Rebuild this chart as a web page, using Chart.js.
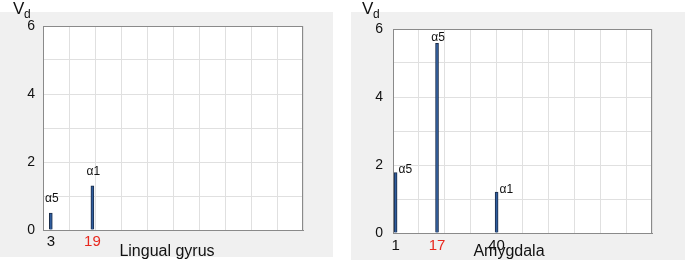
<!DOCTYPE html>
<html>
<head>
<meta charset="utf-8">
<script src="https://cdn.jsdelivr.net/npm/chart.js@4.4.1/dist/chart.umd.min.js"></script>
<style>
  html, body { margin: 0; padding: 0; background: #fff; }
  body { width: 685px; height: 262px; position: relative; overflow: hidden; }
  .panel { position: absolute; top: 0; width: 340px; height: 262px; }
  .bg { position: absolute; background: #f0f0f0; }
  canvas { position: absolute; left: 0; top: 0; }
</style>
</head>
<body>
<div class="bg" style="left:0;top:12px;width:333px;height:245px"></div>
<div class="bg" style="left:351px;top:12px;width:334px;height:248px"></div>
<div class="panel" style="left:0"><canvas id="lingualChart" width="340" height="262"></canvas></div>
<div class="panel" style="left:345px"><canvas id="amygChart" width="340" height="262"></canvas></div>

<script>
// ---- data ----
const yTicks = [0, 1, 2, 3, 4, 5, 6];

// Lingual gyrus panel
const lingualX = [3, 19];
const lingualVd = [0.5, 1.3];
const lingualTags = ['α5', 'α1'];
const lingualTicks = [3, 19];
const lingualRed = 19;

// Amygdala panel
const amygX = [1, 17, 40];
const amygVd = [1.78, 5.58, 1.2];
const amygTags = ['α5', 'α5', 'α1'];
const amygTicks = [1, 17, 40];
const amygRed = 17;

const FONT = "'Liberation Sans', Arial, Helvetica, sans-serif";

// white plot area + frame, tags on bars, axis texts
const panelPlugin = {
    id: 'panelDecor',
    beforeDraw(chart) {
        const a = chart.chartArea, ctx = chart.ctx;
        ctx.save();
        ctx.fillStyle = '#ffffff';
        ctx.fillRect(a.left, a.top, a.right - a.left, a.bottom - a.top);
        ctx.restore();
    },
    beforeDatasetsDraw(chart) {
        const a = chart.chartArea, ctx = chart.ctx;
        ctx.save();
        ctx.strokeStyle = '#8a8a8a';
        ctx.lineWidth = 1;
        ctx.strokeRect(a.left + 0.5, a.top + 0.5, a.right - a.left - 1, a.bottom - a.top);
        ctx.restore();
    },
    afterDraw(chart, args, opts) {
        const ctx = chart.ctx;
        const meta = chart.getDatasetMeta(0);
        ctx.save();
        // tags over the bars
        ctx.font = '12px ' + FONT;
        ctx.fillStyle = '#111';
        meta.data.forEach((bar, i) => {
            const place = opts.tagPlace[i];
            if (place === 'right') {
                ctx.textAlign = 'left';
                ctx.textBaseline = 'bottom';
                ctx.fillText(opts.tags[i], bar.x + 3, bar.y + 3);
            } else if (place === 'above') {
                ctx.textAlign = 'center';
                ctx.textBaseline = 'bottom';
                ctx.fillText(opts.tags[i], bar.x + 1, bar.y - opts.tagGap);
            }
        });
        // V_d label
        ctx.textAlign = 'left';
        ctx.textBaseline = 'alphabetic';
        ctx.font = '17px ' + FONT;
        ctx.fillText('V', opts.vdX, 14);
        ctx.font = '12px ' + FONT;
        ctx.fillText('d', opts.vdX + 11, 18);
        // region name
        ctx.font = '16px ' + FONT;
        ctx.textAlign = 'center';
        ctx.fillText(opts.title, opts.titleX, 256);
        ctx.restore();
    }
};

function makePanel(canvasId, xs, vals, tags, tickVals, redTick, cfg) {
    const ctx = document.getElementById(canvasId).getContext('2d');
    return new Chart(ctx, {
        type: 'bar',
        data: {
            datasets: [{
                data: xs.map((x, i) => ({ x: x, y: vals[i] })),
                backgroundColor: '#2f5d9e',
                borderColor: '#1b2c48',
                borderWidth: 1,
                barThickness: 3,
                xAxisID: 'x',
                yAxisID: 'y'
            }]
        },
        options: {
            responsive: false,
            animation: false,
            devicePixelRatio: 1,
            layout: { padding: { top: cfg.top, right: cfg.right, left: 0, bottom: 0 } },
            plugins: {
                legend: { display: false },
                tooltip: { enabled: false },
                panelDecor: {
                    tags: tags,
                    tagPlace: cfg.tagPlace,
                    tagGap: cfg.tagGap,
                    vdX: cfg.vdX,
                    title: cfg.title,
                    titleX: cfg.titleX
                }
            },
            scales: {
                x: {
                    type: 'linear',
                    position: 'bottom',
                    offset: false,
                    min: 0,
                    max: 100,
                    ticks: { display: false, stepSize: 10 },
                    grid: { color: '#e0e0e0', drawTicks: false, offset: false },
                    border: { color: '#8a8a8a' },
                    afterFit: s => { s.height = 0; }
                },
                x2: {
                    type: 'linear',
                    position: 'bottom',
                    offset: false,
                    min: 0,
                    max: 100,
                    grid: { display: false, drawTicks: false, offset: false },
                    border: { display: false },
                    afterBuildTicks: s => { s.ticks = tickVals.map(v => ({ value: v })); },
                    ticks: {
                        autoSkip: false,
                        maxRotation: 0,
                        padding: cfg.xPad,
                        font: { family: FONT, size: 15 },
                        color: c => (c.tick && c.tick.value === redTick) ? '#e8281e' : '#111',
                        callback: v => String(v)
                    },
                    afterFit: s => { s.height = cfg.bottomH; }
                },
                y: {
                    min: 0,
                    max: 6,
                    afterBuildTicks: s => { s.ticks = yTicks.map(v => ({ value: v })); },
                    ticks: {
                        padding: cfg.yPad,
                        font: { family: FONT, size: 14 },
                        color: '#111',
                        callback: v => (v % 2 === 0 ? String(v) : '')
                    },
                    grid: { color: '#e0e0e0', drawTicks: false },
                    border: { color: '#8a8a8a' },
                    afterFit: s => { s.width = cfg.yWidth; }
                }
            }
        },
        plugins: [panelPlugin]
    });
}

makePanel('lingualChart', lingualX, lingualVd, lingualTags, lingualTicks, lingualRed, {
    top: 26, right: 37, bottomH: 32, yWidth: 43, yPad: 8, xPad: 3,
    tagPlace: ['above', 'above'], tagGap: 8,
    vdX: 13, title: 'Lingual gyrus', titleX: 167
});

makePanel('amygChart', amygX, amygVd, amygTags, amygTicks, amygRed, {
    top: 29, right: 33, bottomH: 29, yWidth: 48, yPad: 10, xPad: 4,
    tagPlace: ['right', 'above', 'right'], tagGap: 0,
    vdX: 17, title: 'Amygdala', titleX: 164
});
</script>
</body>
</html>
